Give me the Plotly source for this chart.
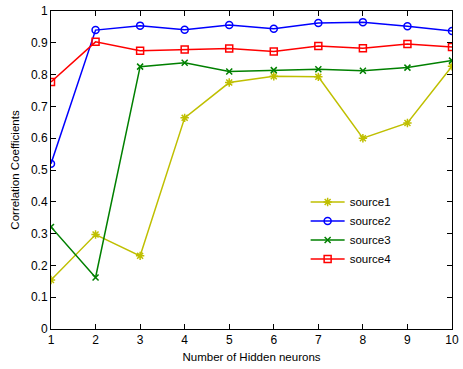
import plotly.graph_objects as go

hidden_neurons = [1, 2, 3, 4, 5, 6, 7, 8, 9, 10]
source1 = [0.154, 0.297, 0.230, 0.664, 0.775, 0.795, 0.793, 0.600, 0.648, 0.826]
source2 = [0.520, 0.940, 0.954, 0.941, 0.956, 0.944, 0.962, 0.965, 0.952, 0.937]
source3 = [0.321, 0.162, 0.825, 0.837, 0.810, 0.814, 0.817, 0.812, 0.822, 0.844]
source4 = [0.777, 0.903, 0.875, 0.879, 0.882, 0.873, 0.890, 0.883, 0.896, 0.887]

y_ticks = [0, 0.1, 0.2, 0.3, 0.4, 0.5, 0.6, 0.7, 0.8, 0.9, 1]
y_tick_labels = ["0", "0.1", "0.2", "0.3", "0.4", "0.5", "0.6", "0.7", "0.8", "0.9", "1"]

series = [
    ("source1", source1, "#BFBF00", "asterisk-open", 7),
    ("source2", source2, "#0000FF", "circle-open", 7),
    ("source3", source3, "#008000", "x-thin-open", 6),
    ("source4", source4, "#FF0000", "square-open", 7),
]

FONT = "Liberation Sans, Arial, sans-serif"

fig = go.Figure()
for name, vals, color, symbol, size in series:
    fig.add_trace(go.Scatter(
        x=hidden_neurons, y=vals, name=name, mode="lines+markers",
        line=dict(color=color, width=1.5),
        marker=dict(symbol=symbol, size=size, color=color,
                    line=dict(color=color, width=1.5)),
    ))

axis_common = dict(
    showline=True, linecolor="black", linewidth=1, mirror="ticks",
    ticks="inside", ticklen=5, tickcolor="black", tickwidth=1,
    showgrid=False, zeroline=False,
    tickfont=dict(family=FONT, size=12, color="black"),
)

fig.update_xaxes(
    range=[1, 10], tickvals=hidden_neurons, ticklabeloverflow="allow",
    title=dict(text="Number of Hidden neurons", standoff=6,
               font=dict(family=FONT, size=11.5, color="black")),
    **axis_common,
)
fig.update_yaxes(
    range=[0, 1], tickvals=y_ticks, ticktext=y_tick_labels,
    title=dict(text="Correlation Coefficients", standoff=8,
               font=dict(family=FONT, size=11.5, color="black")),
    **axis_common,
)

fig.update_layout(
    width=463, height=369,
    margin=dict(l=51, r=4, t=10, b=40),
    plot_bgcolor="white", paper_bgcolor="white",
    showlegend=True,
    legend=dict(
        x=0.635, y=0.445, xanchor="left", yanchor="top",
        bgcolor="rgba(255,255,255,0)", borderwidth=0,
        font=dict(family=FONT, size=11.5, color="black"),
        tracegroupgap=0, itemwidth=34,
    ),
)

fig.write_html("out.html")
